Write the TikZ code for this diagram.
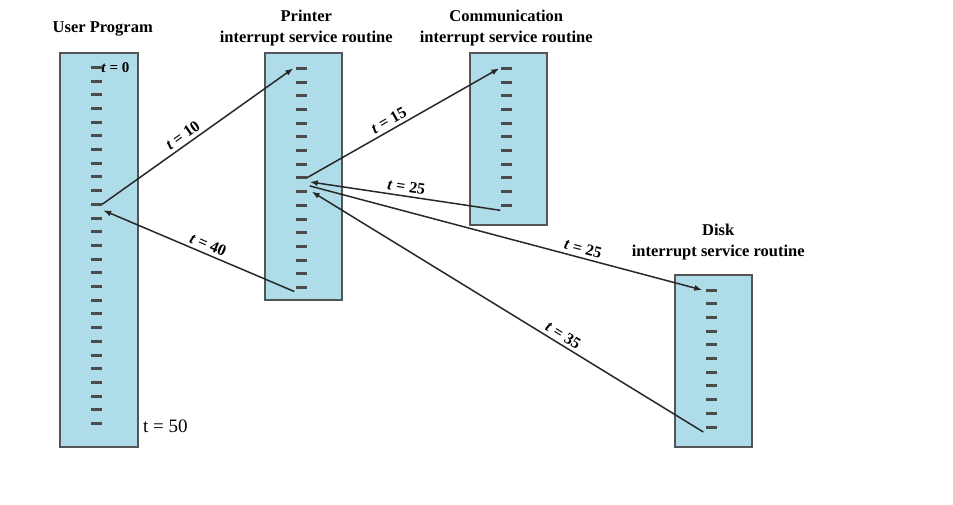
\documentclass[tikz,border=0pt]{standalone}
\usepackage{fontspec}
\setmainfont{Liberation Serif}
\usetikzlibrary{arrows.meta,positioning}
\definecolor{panelblue}{RGB}{174,221,233}
\definecolor{edgegray}{RGB}{85,85,85}
\definecolor{notchgray}{RGB}{75,75,75}
\definecolor{linegray}{RGB}{40,40,40}
\newcommand{\tlabel}[1]{{\bfseries\itshape t} \textbf{= #1}}

\begin{document}
\begin{tikzpicture}[
  x=1pt, y=-1pt,
  panel/.style={draw=edgegray, line width=1.5pt, fill=panelblue, anchor=north west, inner sep=0pt},
  notch/.style={fill=notchgray, inner sep=0pt, minimum width=11pt, minimum height=3pt},
  title/.style={font=\fontsize{16.5}{21}\selectfont\bfseries, align=center, inner sep=0pt},
  tag/.style={font=\fontsize{16}{18}\selectfont, sloped, above},
  arrow/.style={-{Latex[length=8pt,width=6pt]}, line width=1.5pt, draw=linegray}
]
\useasboundingbox (0,0) rectangle (953,504);
\node[panel, minimum width=78pt, minimum height=394pt] (user) at (59,52) {};
\node[panel, minimum width=77pt, minimum height=247pt] (printer) at (264,52) {};
\node[panel, minimum width=77pt, minimum height=172pt] (comm) at (469,52) {};
\node[panel, minimum width=77pt, minimum height=172pt] (disk) at (674,274) {};
\foreach \k in {0,...,26} \node[notch] (user-\k) at (96.5,{67.3+13.7*\k}) {};
\foreach \k in {0,...,16} \node[notch] (printer-\k) at (301,{68.3+13.7*\k}) {};
\foreach \k in {0,...,10} \node[notch] (comm-\k) at (506,{68.3+13.7*\k}) {};
\foreach \k in {0,...,10} \node[notch] (disk-\k) at (711,{290+13.7*\k}) {};
\node[title, above=16pt of user, xshift=4pt] (usertitle) {User Program};
\node[title, above=6pt of printer, xshift=3pt] (printertitle) {Printer\\interrupt service routine};
\node[title, above=6pt of comm, xshift=-2pt] (commtitle) {Communication\\interrupt service routine};
\node[title, above=14pt of disk, xshift=5pt] (disktitle) {Disk\\interrupt service routine};
\node[font=\fontsize{15}{16}\selectfont, anchor=west, inner sep=0pt, xshift=-1pt] (tzero) at (user-0.east) {\tlabel{0}};
\node[font=\fontsize{19}{22}\selectfont, anchor=west, inner sep=0pt] (tend) at (143,426) {t = 50};
\draw[arrow] (user-10.east) -- node[tag, pos=0.45] {\tlabel{10}} ([xshift=-2pt]printer-0.west);
\draw[arrow] ([shift={(-1pt,-4pt)}]printer-16.west) -- node[tag, pos=0.47] {\tlabel{40}} ([shift={(1pt,-6pt)}]user-10.east);
\draw[arrow] (printer-8.east) -- node[tag, pos=0.45] {\tlabel{15}} ([xshift=-1pt]comm-0.west);
\draw[arrow] ([yshift=-5pt]comm-10.west) -- node[tag, pos=0.5] {\tlabel{25}} ([shift={(3pt,-4pt)}]printer-8.east);
\draw[arrow] ([shift={(3pt,-8pt)}]printer-8.east) -- node[tag, pos=0.69] {\tlabel{25}} ([xshift=-3pt]disk-0.west);
\draw[arrow] ([shift={(-2pt,-5pt)}]disk-10.west) -- node[tag, pos=0.37] {\tlabel{35}} ([xshift=5pt]printer-9.east);
\end{tikzpicture}
\end{document}
